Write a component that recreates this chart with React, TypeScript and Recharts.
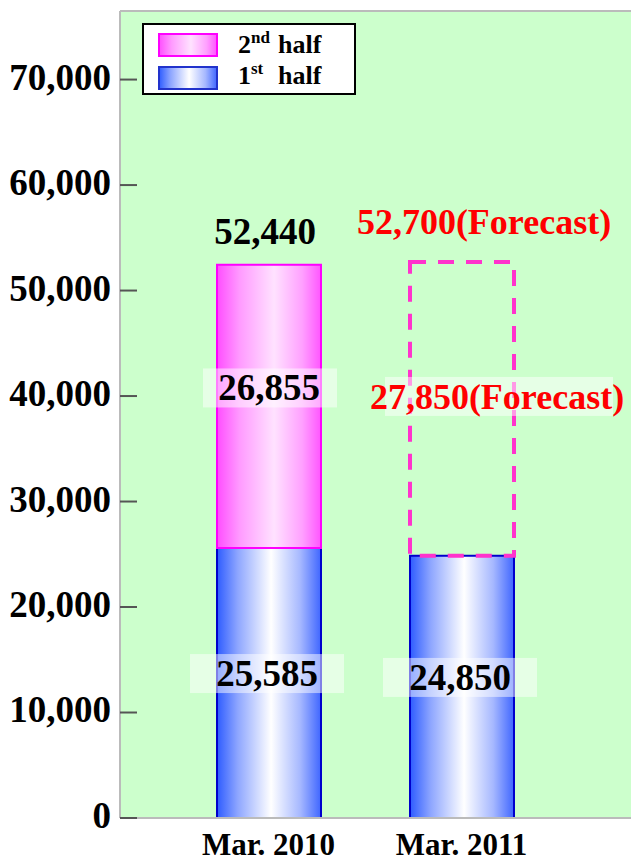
import React from 'react';
import { BarChart, Bar, XAxis, YAxis, CartesianGrid, Cell, LabelList, Legend, ReferenceLine } from 'recharts';

const categories = ['Mar. 2010', 'Mar. 2011'];
const firstHalf = [25585, 24850];
const secondHalf = [26855, 27850];
const totals = [52440, 52700];
const isForecast = [false, true];
const yTicks = [0, 10000, 20000, 30000, 40000, 50000, 60000, 70000];
const Y_MAX = 76500;

const data = categories.map((c, i) => ({
  name: c,
  first: firstHalf[i],
  second: secondHalf[i],
  total: totals[i],
  forecast: isForecast[i],
}));

const FONT = '"Liberation Serif", "Times New Roman", serif';
const fmt = (v: number) => String(v).replace(/\B(?=(\d{3})+(?!\d))/g, ',');
const BOX_FILL = 'rgba(255,255,255,0.5)';

const BlueStops = () => (
  <>
    <stop offset="0%" stopColor="#2E5CFF" />
    <stop offset="20%" stopColor="#8EA6FF" />
    <stop offset="52%" stopColor="#FFFFFF" />
    <stop offset="80%" stopColor="#A6B8FF" />
    <stop offset="100%" stopColor="#3F66FF" />
  </>
);
const PinkStops = () => (
  <>
    <stop offset="0%" stopColor="#FF4DFF" />
    <stop offset="22%" stopColor="#FF9BFF" />
    <stop offset="55%" stopColor="#FFE2FF" />
    <stop offset="82%" stopColor="#FFA0FF" />
    <stop offset="100%" stopColor="#FF55FF" />
  </>
);

const getIndex = (props: any, key: 'first' | 'second') => {
  if (typeof props.index === 'number') return props.index;
  const i = data.findIndex((d) => d[key] === props.value);
  return i < 0 ? 0 : i;
};

const YTick = (props: any) => {
  const { x, y, payload } = props;
  return (
    <g>
      <line x1={x} x2={x + 17} y1={y} y2={y} stroke="#555555" strokeWidth={2} />
      <text x={x - 9} y={y} dy="0.27em" textAnchor="end" fontFamily={FONT} fontWeight="bold" fontSize={37} fill="#000">
        {fmt(payload.value)}
      </text>
    </g>
  );
};

const TopLabel = (props: any) => {
  const vb = props.viewBox ?? props;
  const { x, y, width } = vb;
  const d = data[getIndex(props, 'second')];
  const cx = x + width / 2;
  if (d.forecast) {
    return (
      <text x={cx + 22} y={y - 28} textAnchor="middle" fontFamily={FONT} fontWeight="bold" fontSize={36} fill="#FF0000">
        {fmt(d.total) + '(Forecast)'}
      </text>
    );
  }
  return (
    <text x={cx - 4} y={y - 21} textAnchor="middle" fontFamily={FONT} fontWeight="bold" fontSize={37} fill="#000">
      {fmt(d.total)}
    </text>
  );
};

const makeMidLabel = (kind: 'first' | 'second') => (props: any) => {
  const vb = props.viewBox ?? props;
  const { x, y, width, height } = vb;
  const d = data[getIndex(props, kind)];
  const cx = x + width / 2;
  const cy = y + height / 2;
  let tx = cx;
  let ty = cy;
  let bx = cx;
  let bw = 154;
  let fs = 37;
  let color = '#000';
  let text = '';
  if (kind === 'first') {
    tx = cx - 2;
    bx = cx - 2;
    ty = cy - 10;
    text = fmt(d.first);
  } else if (d.forecast) {
    tx = cx + 35;
    bx = cx + 37;
    ty = cy - 13;
    bw = 228;
    fs = 36;
    color = '#FF0000';
    text = fmt(d.second) + '(Forecast)';
  } else {
    tx = cx;
    bx = cx + 1;
    ty = cy - 19;
    bw = 134;
    text = fmt(d.second);
  }
  return (
    <g>
      <rect x={bx - bw / 2} y={ty - 19} width={bw} height={39} fill={BOX_FILL} />
      <text x={tx} y={ty} dy="0.35em" textAnchor="middle" fontFamily={FONT} fontWeight="bold" fontSize={fs} fill={color}>
        {text}
      </text>
    </g>
  );
};

const LegendBox = () => (
  <svg width={214} height={72} style={{ display: 'block' }}>
    <defs>
      <linearGradient id="lgBlue" x1="0" y1="0" x2="1" y2="0">
        <BlueStops />
      </linearGradient>
      <linearGradient id="lgPink" x1="0" y1="0" x2="1" y2="0">
        <PinkStops />
      </linearGradient>
    </defs>
    <rect x={1} y={1} width={212} height={70} fill="#FFFFFF" stroke="#000000" strokeWidth={2} />
    <rect x={17} y={11} width={58} height={22} fill="url(#lgPink)" stroke="#FF00FF" strokeWidth={2} />
    <rect x={17} y={44} width={58} height={22} fill="url(#lgBlue)" stroke="#2233CC" strokeWidth={2} />
    <text x={96} y={30} fontFamily={FONT} fontWeight="bold" fontSize={26} fill="#000">
      2<tspan fontSize={17} dy={-10}>nd</tspan>
      <tspan x={136} dy={10}>half</tspan>
    </text>
    <text x={96} y={61} fontFamily={FONT} fontWeight="bold" fontSize={26} fill="#000">
      1<tspan fontSize={17} dy={-10}>st</tspan>
      <tspan x={136} dy={10}>half</tspan>
    </text>
  </svg>
);

export default function App() {
  return (
    <div style={{ position: 'absolute', left: 0, top: 0, background: '#FFFFFF' }}>
      <BarChart width={631} height={862} data={data} margin={{ top: 11, right: 0, bottom: 0, left: 0 }}>
        <defs>
          <linearGradient id="blueGrad" x1="0" y1="0" x2="1" y2="0">
            <BlueStops />
          </linearGradient>
          <linearGradient id="pinkGrad" x1="0" y1="0" x2="1" y2="0">
            <PinkStops />
          </linearGradient>
        </defs>
        <CartesianGrid fill="#CCFFCC" stroke="none" horizontal={false} vertical={false} />
        <XAxis
          dataKey="name"
          height={44}
          padding={{ left: 52, right: 73 }}
          axisLine={{ stroke: '#BBBBBB', strokeWidth: 2 }}
          tickLine={false}
          tickSize={0}
          tickMargin={15}
          tick={{ fontFamily: FONT, fontWeight: 'bold', fontSize: 31, fill: '#000' }}
        />
        <YAxis
          width={120}
          domain={[0, Y_MAX]}
          ticks={yTicks}
          interval={0}
          allowDataOverflow
          axisLine={{ stroke: '#BBBBBB', strokeWidth: 2 }}
          tickLine={false}
          tickSize={0}
          tickMargin={0}
          tick={<YTick />}
        />
        <ReferenceLine y={Y_MAX} stroke="#BBBBBB" strokeWidth={2} />
        <Legend
          layout="horizontal"
          verticalAlign="middle"
          align="center"
          wrapperStyle={{ position: 'absolute', left: 142, top: 23, width: 214, height: 72 }}
          content={() => <LegendBox />}
        />
        <Bar dataKey="first" stackId="a" barSize={104} fill="url(#blueGrad)" stroke="#0000CC" strokeWidth={2} isAnimationActive={false}>
          <LabelList dataKey="first" content={makeMidLabel('first')} />
        </Bar>
        <Bar dataKey="second" stackId="a" barSize={104} isAnimationActive={false}>
          {data.map((d, i) =>
            d.forecast ? (
              <Cell key={i} fill="none" stroke="#FF33CC" strokeWidth={4} strokeDasharray="16 12" />
            ) : (
              <Cell key={i} fill="url(#pinkGrad)" stroke="#FF00FF" strokeWidth={2} />
            )
          )}
          <LabelList dataKey="second" content={makeMidLabel('second')} />
          <LabelList dataKey="second" content={TopLabel} />
        </Bar>
      </BarChart>
    </div>
  );
}
